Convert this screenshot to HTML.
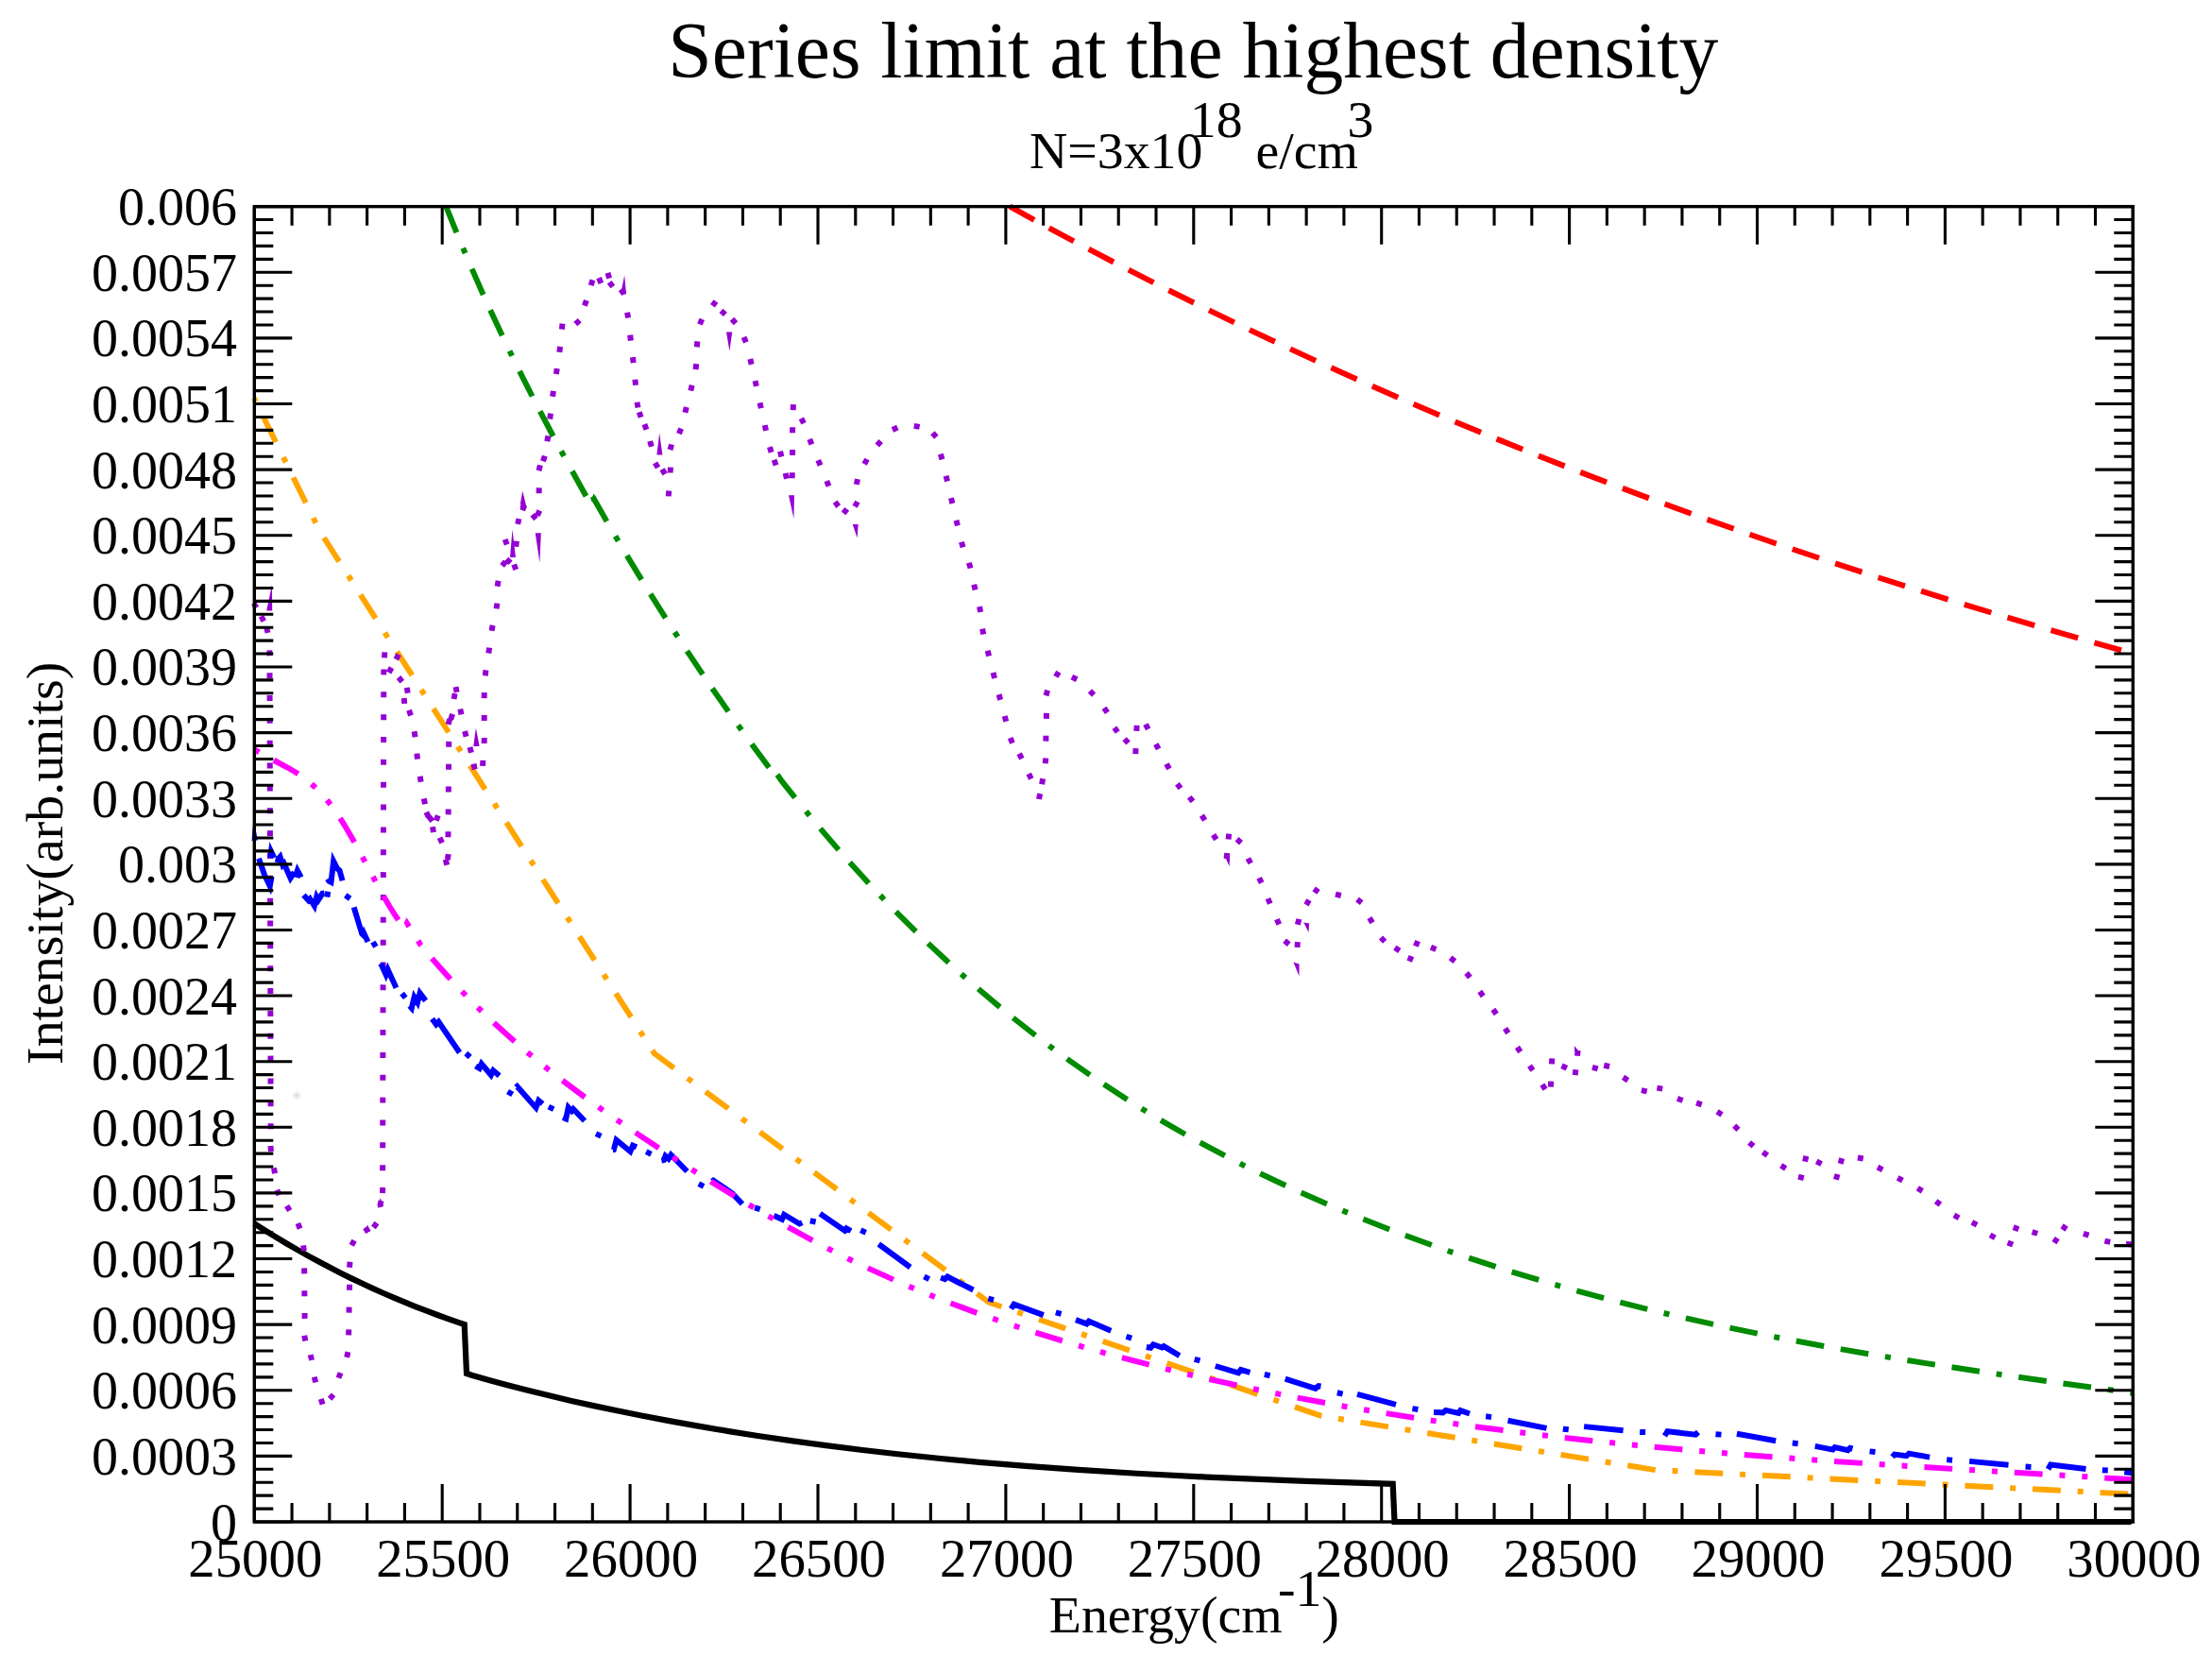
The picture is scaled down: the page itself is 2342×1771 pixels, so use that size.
<!DOCTYPE html>
<html lang="en"><head><meta charset="utf-8"><title>Series limit at the highest density</title>
<style>html,body{margin:0;padding:0;background:#fff}svg{display:block}text{font-family:"Liberation Serif", "DejaVu Serif", serif;fill:#000}</style></head><body>
<svg width="2342" height="1771" viewBox="0 0 2342 1771">
<rect width="2342" height="1771" fill="#fff"/>
<defs><clipPath id="pa"><rect x="266.3" y="215.65" width="1993.6" height="1398.55"/></clipPath><filter id="bl" x="-50%" y="-50%" width="200%" height="200%"><feGaussianBlur stdDeviation="1.6"/></filter></defs>
<circle cx="314.2" cy="1159.6" r="3.2" fill="#dcdcdc" filter="url(#bl)"/>
<g clip-path="url(#pa)" fill="none" stroke-linejoin="miter" stroke-miterlimit="30" stroke-linecap="butt" stroke-width="5.97">
<polyline stroke="#000" stroke-width="6.2" stroke-miterlimit="4" points="269,1295.09 280.42,1302.37 291.84,1309.43 303.26,1316.28 314.68,1322.92 326.1,1329.35 337.52,1335.58 348.94,1341.61 360.36,1347.45 371.78,1353.1 383.21,1358.57 394.63,1363.85 406.05,1368.96 417.47,1373.9 428.89,1378.66 440.31,1383.27 451.73,1387.71 463.15,1391.99 474.57,1396.13 485.99,1400.11 491.7,1402.05 494,1453.9 500.17,1456.04 518.67,1461.23 537.18,1466.22 555.68,1471.01 580.35,1477.11 605.02,1482.9 629.69,1488.38 654.37,1493.59 679.04,1498.54 709.88,1504.39 740.72,1509.9 771.56,1515.07 802.4,1519.94 839.4,1525.37 876.41,1530.39 913.42,1535.01 950.43,1539.25 993.6,1543.75 1036.78,1547.79 1086.12,1551.9 1141.63,1555.93 1203.31,1559.75 1277.33,1563.57 1382.18,1567.84 1474.7,1570.85 1476.5,1611 2256.5,1611"/>
<path stroke="#f00" d="M1068.95 218.47L1095.02 232.79M1110.71 241.3L1136.93 255.35M1152.7 263.7L1179.06 277.48M1194.92 285.68L1221.43 299.2M1237.38 307.24L1264.03 320.5M1280.06 328.37L1306.84 341.37M1322.95 349.09L1349.87 361.82M1366.06 369.38L1393.11 381.86M1409.38 389.26L1436.55 401.47M1452.89 408.72L1480.19 420.67M1496.6 427.77L1524.02 439.46M1540.5 446.4L1568.03 457.84M1584.58 464.63L1612.22 475.82M1628.83 482.45L1656.58 493.39M1673.26 499.88L1701.11 510.57M1717.85 516.91L1745.8 527.36M1762.6 533.56L1790.64 543.77M1807.5 549.82L1835.63 559.8M1852.54 565.71L1880.77 575.46M1897.73 581.24L1926.03 590.76M1943.04 596.4L1971.43 605.7M1988.48 611.22L2016.95 620.3M2034.05 625.69L2062.59 634.56M2079.73 639.83L2108.34 648.5M2125.52 653.64L2154.19 662.12M2171.42 667.14L2200.15 675.43M2217.41 680.34L2246 688.39"/>
<polyline stroke="#ffa500" stroke-dasharray="5.97 17.9 29.84 17.9" stroke-dashoffset="1.71" points="269,421.4 339,563 692.9,1115.3 1047.1,1378.7 1399,1498.9 1752.8,1556.1 2258,1581.7"/>
<path stroke="#9400d3" d="M268.54 638.2L271.46 643.4M276.61 652.21L279.19 657.59M282.07 664.11L283.53 669.89M285.33 688.32L285.67 694.28M285.55 712.17L285.56 718.13M285.6 736.02L285.62 741.98M285.66 759.87L285.67 765.83M285.71 783.72L285.73 789.68M285.77 807.57L285.78 813.53M285.82 831.42L285.83 837.38M285.87 855.27L285.89 861.23M285.93 879.12L285.94 885.08M285.98 902.97L286 908.93M286.04 926.82L286.05 932.78M286.09 950.67L286.11 956.63M286.15 974.52L286.16 980.48M286.2 998.37L286.22 1004.33M286.26 1022.22L286.27 1028.18M286.31 1046.07L286.33 1052.03M286.37 1069.92L286.38 1075.88M286.42 1093.77L286.43 1099.73M286.47 1117.62L286.49 1123.58M286.53 1141.47L286.54 1147.43M286.58 1165.32L286.6 1171.28M286.64 1189.17L286.65 1195.13M286.45 1213.03L286.95 1218.97M290.01 1236.26L290.99 1242.14M293.32 1259.62L295.48 1265.18M303.62 1276.47L306.78 1281.53M315.41 1295.02L317.59 1300.58M321.14 1318.34L321.86 1324.26M322.14 1342.42L322.26 1348.38M322.37 1366.22L322.43 1372.18M322.57 1389.92L322.63 1395.88M322.32 1413.65L323.28 1419.55M328.68 1434.1L330.12 1439.9M332.8 1457.6L334.2 1463.4M339.82 1480.95L341.58 1486.65M349.11 1480.82L353.09 1476.38M358.45 1458.79L360.55 1453.21M367.18 1436.92L368.42 1431.08M369.09 1413.28L369.31 1407.32M369.54 1389.58L369.66 1383.62M370.06 1365.78L370.14 1359.82M370.07 1341.67L370.53 1335.73M372.33 1318.45L375.07 1313.15M385.99 1303.56L390.81 1300.04M395.38 1299.36L399.02 1294.64M402.31 1276.92L403.49 1271.08M404.86 1262.97L405.34 1257.03M405.15 1239.13L405.16 1233.17M405.2 1215.28L405.21 1209.32M405.25 1191.43L405.26 1185.47M405.3 1167.58L405.32 1161.62M405.35 1143.73L405.37 1137.77M405.41 1119.88L405.42 1113.92M405.46 1096.03L405.47 1090.07M405.51 1072.18L405.52 1066.22M405.56 1048.33L405.58 1042.37M405.62 1024.48L405.63 1018.52M405.67 1000.63L405.68 994.67M405.72 976.78L405.73 970.82M405.77 952.93L405.78 946.97M405.82 929.08L405.84 923.12M405.88 905.23L405.89 899.27M405.93 881.38L405.94 875.42M405.98 857.53L405.99 851.57M406.03 833.68L406.05 827.72M406.08 809.83L406.1 803.87M406.14 785.98L406.15 780.02M406.19 762.13L406.2 756.17M406.24 738.28L406.25 732.32M406.22 714.43L406.38 708.47M407.05 696.38L407.35 690.42M422.12 692.78L419.28 698.02M414.52 706.78L411.68 712.02M421.98 717.02L425.82 721.58M430.88 727.85L431.72 733.75M427.77 738.93L428.23 744.87M433.03 751.78L434.97 757.42M438.61 774.26L439.59 780.14M441.32 797.74L442.08 803.66M444.72 821.75L445.68 827.65M448.81 845.38L449.99 851.22M451.34 859.69L453.86 865.11M454.2 864.52L457.8 869.28M463.79 863.19L461.81 868.81M458.06 875.25L458.94 881.15M465.54 886.8L468.06 892.2M471.79 909.9L473.21 915.7M473.83 910.05L474.77 904.15M474.46 886.23L474.51 880.27M474.64 862.38L474.69 856.42M474.83 838.53L474.87 832.57M475.01 814.68L475.06 808.72M475.19 790.83L475.24 784.87M474.67 766.89L476.13 761.11M477.29 761.54L479.11 755.86M480.5 740.02L481.7 734.18M482.5 727.08L483.7 732.92M487.3 750.48L488.5 756.32M492.04 774.01L493.56 779.79M497.43 791.02L498.97 796.78M501.46 808.69L502.74 814.51M511.01 810.88L511.39 804.92M512.61 786.98L512.79 781.02M512.7 762.98L512.7 757.02M512.61 739.08L512.79 733.12M513.79 715.37L514.41 709.43M517.27 691.55L518.13 685.65M520.58 667.74L521.62 661.86M525.62 644.46L526.38 638.54M526.6 620.74L527.6 614.86M531.62 598.92L535.38 594.28M536.21 591.87L540.59 595.93M546.21 603.01L544.19 597.39M536.71 576.61L534.69 570.99M546.33 578.77L546.87 572.83M548.14 554.91L549.46 549.09M553.16 540.3L555.24 534.7M563.37 549.08L567.83 545.12M568.84 545.81L571.36 540.39M570.63 522.28L570.77 516.32M570.51 498.2L571.89 492.4M574.98 488.24L576.82 482.56M579.35 467.25L580.25 461.35M582.24 443.56L582.96 437.64M585.08 419.75L585.92 413.85M588.85 396.05L589.75 390.15M592.33 372.76L593.07 366.84M594.89 348.57L595.51 342.63M609.26 343.08L613.74 339.12M618.88 323.61L620.92 317.99M625.71 302.15L627.49 296.45M632.44 298.13L637.96 295.87M643.47 288.93L645.13 294.67M645.21 298.71L648.79 303.49M657.29 306.36L660.71 311.24M664.09 330.66L665.11 336.54M667.14 354.64L667.86 360.56M669.97 378.13L670.63 384.07M672.41 401.83L672.99 407.77M674.48 425.66L675.52 431.54M676.72 436.18L678.68 441.82M682.35 449.11L684.45 454.69M688.17 467.03L689.83 472.77M693.54 489.95L696.66 495.05M701.09 496.73L704.11 501.87M707.78 525.38L708.22 519.42M709.66 500.48L709.94 494.52M709.5 476.17L711.1 470.43M718.86 459.16L721.14 453.64M725.34 436.69L726.86 430.91M731.31 413.6L732.69 407.8M736.51 391.06L737.29 385.14M737.78 367.37L738.42 361.43M740.94 343.45L743.26 337.95M754.44 323.81L757.96 318.99M763.48 328.91L767.92 332.89M775.04 337.75L778.96 342.25M787.54 356.85L789.86 362.35M794.28 380L795.72 385.8M799.56 403.09L800.84 408.91M804.57 426.38L805.83 432.22M809.74 450.09L811.06 455.91M814.96 473.14L816.64 478.86M819.61 486.79L821.59 492.41M826 477.7L827.4 483.5M831.6 500.9L833 506.7M838.65 506.18L838.75 500.22M839.08 481.98L839.12 476.02M839.06 458.28L839.14 452.32M839.71 434.08L839.89 428.12M848.31 442.86L851.09 448.14M857.19 464.93L859.41 470.47M866.27 487.04L868.53 492.56M875.24 509.05L877.56 514.55M884.1 531.32L887.7 536.08M892.6 539.21L897.2 542.99M905.02 536.29L907.98 531.11M906.74 512.91L908.06 507.09M915.12 491.29L918.08 486.11M928.72 471.53L932.68 467.07M944.88 454.92L950.32 452.48M967.76 450.88L973.64 451.92M987.45 458.24L991.35 462.76M995.9 480.63L997.5 486.37M1001.61 503.7L1002.99 509.5M1007.03 527.19L1008.37 533.01M1012.51 550.7L1013.89 556.5M1017.94 573.74L1019.66 579.46M1025.87 595.74L1027.53 601.46M1031.22 618.7L1032.58 624.5M1037.05 642.17L1038.15 648.03M1040.15 665.67L1041.25 671.53M1045.68 688.81L1047.12 694.59M1051.55 712.11L1053.05 717.89M1057.63 735.12L1059.17 740.88M1063.72 758.02L1065.28 763.78M1069.64 781.15L1071.96 786.65M1079.11 797.76L1081.89 803.04M1089.23 819L1091.77 824.4M1100.04 846.03L1101.16 840.17M1103.09 830.24L1104.11 824.36M1106.75 808.37L1107.25 802.43M1107.34 784.68L1107.46 778.72M1107.84 760.88L1107.96 754.92M1107.52 736.38L1109.08 730.62M1117.94 716.4L1120.86 711.2M1134.83 716.57L1140.17 719.23M1153.92 731.37L1158.08 735.63M1169.07 749.3L1172.33 754.3M1179.87 770.17L1183.33 775.03M1190.58 782.2L1194.62 786.6M1202.27 798.18L1202.53 792.22M1203.37 773.78L1203.63 767.82M1212.93 766.55L1215.67 771.85M1223.81 787.56L1226.59 792.84M1235.06 808.68L1237.94 813.92M1246.45 829.69L1249.95 834.51M1259.26 843.75L1262.94 848.45M1272.41 863.17L1275.59 868.23M1284.63 883.56L1287.77 888.64M1298.61 908.97L1299.19 903.03M1300.61 888.57L1301.19 882.63M1309.6 888.18L1314 892.22M1321.38 908.58L1324.22 913.82M1333.09 929.32L1335.71 934.68M1342.43 951.16L1344.77 956.64M1351.92 973.06L1354.28 978.54M1360.09 995.81L1364.71 999.59M1373.59 1002.98L1373.81 997.02M1373.88 978.7L1375.32 972.9M1382.98 957.87L1386.02 952.73M1391.86 945.03L1395.34 940.17M1414 946.58L1419.8 948.02M1436.94 952.08L1441.66 955.72M1449.95 971.65L1453.05 976.75M1462.03 992.45L1466.17 996.75M1476.85 1003.1L1481.75 1006.5M1492.15 1017.65L1494.45 1012.15M1498.85 1001.65L1501.15 996.15M1514.96 1002.73L1520.44 1005.07M1535.64 1013.98L1540.36 1017.62M1552.57 1030.02L1556.43 1034.58M1566.75 1049.59L1570.25 1054.41M1580.92 1068.54L1584.28 1073.46M1593.6 1088.58L1596.8 1093.62M1606.46 1108.51L1609.74 1113.49M1619.55 1128.22L1622.85 1133.18M1632.84 1148.12L1636.16 1153.08M1641.86 1150.58L1642.14 1144.62M1642.96 1126.38L1643.24 1120.42M1653.5 1128.22L1658.9 1130.78M1667.67 1138.16L1668.33 1132.24M1669.97 1117.76L1670.63 1111.84M1685.92 1129.92L1691.68 1131.48M1698.28 1127.78L1704.12 1129.02M1718.62 1140.35L1723.58 1143.65M1737.88 1154.19L1743.72 1155.41M1754.36 1151.6L1760.24 1152.6M1776.01 1162.85L1781.59 1164.95M1796.07 1167.44L1801.73 1169.36M1818.09 1176.79L1823.11 1180.01M1836.27 1191.61L1840.53 1195.79M1852.05 1209.44L1856.55 1213.36M1866.46 1219.59L1871.34 1223.01M1885.71 1233.66L1890.69 1236.94M1906.19 1249.3L1907.61 1243.5M1910.99 1229.6L1912.41 1223.8M1923.25 1229.43L1928.55 1232.17M1943.9 1248.77L1945.5 1243.03M1948.6 1231.87L1950.2 1226.13M1966.86 1225.5L1972.74 1226.5M1987.96 1235.51L1993.24 1238.29M2009.16 1246.8L2014.44 1249.6M2030.27 1257.72L2035.33 1260.88M2049.6 1271.53L2054.4 1275.07M2068.89 1286.36L2074.11 1289.24M2087.87 1293.79L2093.13 1296.61M2107.09 1307.36L2112.31 1310.24M2127.35 1319.29L2129.45 1313.71M2133.45 1302.99L2135.55 1297.41M2151.54 1304.04L2157.26 1305.76M2174.95 1315.59L2178.25 1310.61M2183.95 1301.99L2187.25 1297.01M2205.86 1305.79L2211.54 1307.61M2228.39 1313.54L2234.21 1314.86M2250.94 1316.72L2256.86 1317.48"/>
<path fill="#9400d3" stroke="none" d="M282.2 646.5L288 618.9L288.2 646.5ZM540.02 590L542.5 560.4L545.98 590ZM550.9 533L553.3 519.7L557.6 537.5ZM566.8 564.3L571.4 595.7L572.8 564.3ZM501.3 790L503.9 770.4L507.6 790ZM550.77 537L553.4 520.8L556.73 537ZM657.07 311.5L661.2 291.4L663.03 311.5ZM695.42 481.5L698.2 458.6L701.38 481.5ZM769 351.5L772.4 371.6L775.2 351.5ZM835.02 524.2L840.4 549L840.98 524.2ZM902.72 555L907.6 569.4L908.68 555ZM1296.2 905L1301.6 917L1302.2 905.5ZM1369.5 1018.5L1375.5 1033.5L1375.6 1020.5ZM1380.31 976.47L1385.5 987L1386.19 977.53ZM1666.8 1107L1667.2 1113L1673.8 1115.5ZM385.6 1304.8L389.2 1296.5L391.8 1303.8ZM399.8 1278.8L402.6 1268L406 1277Z"/>
<path stroke="#00f" d="M274 908.7L280 926L285.79 938.02L287.6 928M286.3 908L287.08 901.46L290.3 908M291.5 909.5L293.95 910.04L296.59 906.96L299.3 915.59L300.7 914.07L307.52 929.57L309.82 926.05L310.8 927M312.6 928.6L314.9 921.55L318.8 928.6M321.5 947.6L326.57 953.15L328.18 951.5L332.87 959.01L335.22 949.35L337.06 952.61L341.4 945.8L343.5 945.5M346.8 930.4L348.32 932.76L350.53 933.9L353.12 911.62L357.2 919.6L359.5 921.4L362.6 932.2M374.7 960.3L383.2 988.5L385.55 990.75L385.91 989.29L389.5 997M403.2 1020L408.6 1031.71L410.59 1026.32L419.5 1045.8M433.7 1064.8L435.84 1067.26L438.62 1055.55L442.05 1061.17L444.56 1051.2L450.7 1059.4M457.5 1078.5L461.81 1084.38L464.4 1081.71L486.6 1114.3M503.6 1128.5L507.64 1130.97L509.81 1126L519.85 1137.98L522.19 1133.23L528.7 1138.7M546.3 1151L547.5 1149.97L567.45 1172.6L570.31 1164.99L574.5 1168.5M596 1183.1L599.21 1184.4L601.76 1172.26L605.27 1175.94L606.94 1173.95L619 1186.5M648.8 1217L649.86 1216.91L652.58 1206.68L667.35 1218.96L670.07 1212.68L674 1214.3M700.4 1228.5L703.02 1227.97L704.56 1223.63L707.86 1226.6L710.42 1222.5L727.5 1240M753.8 1250.5L755.21 1249.64L775 1263L786 1274.5M819.3 1286.8L827.98 1290.81L830.16 1285.76L846.47 1295.5L849.3 1294.2M868.2 1284.8L894.35 1302.71L896.14 1300.29L901 1303M930.3 1317L963.8 1341.5M996 1352.5L1000.37 1354.08L1003.13 1351.5L1016.5 1358.5L1030.5 1365.5M1070.5 1385.5L1073.54 1380.63L1104.8 1392.1M1139 1397.1L1150.6 1401.35L1152.87 1398.54L1176.3 1408.7M1213.8 1426L1218.28 1426.75L1221.11 1423.26L1230.27 1426.52L1232.18 1425.14L1248.9 1435.1M1286.8 1446L1311.14 1453.36L1313.77 1450.05L1323.5 1452.9M1360.7 1459.7L1392.81 1469.82L1395.96 1467.12L1398.5 1467.5M1437 1475.8L1478 1486.8M1518 1494.9L1527.67 1495.35L1530.73 1492.89L1544.27 1495.93L1546.28 1493.16L1556 1496.5M1596.5 1503.8L1637.5 1511.9M1677.1 1510.1L1718.6 1514.2M1762.5 1520L1765.43 1515.22L1795.22 1518.61L1798 1516M1838.9 1517.7L1880.2 1525.2M1921.7 1530.9L1940.5 1534.6L1942.64 1532.16L1956.5 1535.2L1958.87 1532.78L1961.5 1533.5M2003.5 1542.2L2005.84 1539.62L2018.5 1541.2L2021.18 1538.62L2043.1 1542.6M2085.1 1546.9L2126.5 1550.8M2168.5 1555.2L2171.14 1550.43L2208.5 1555M2249.2 1558.2L2258.3 1559.3"/>
<path fill="#00f" stroke="none" d="M266.4 890.3L268.6 866L272.8 889.6Z"/>
<path stroke="#00f" d="M343.84 946.31L349.76 947.09M365.73 947.83L370.67 951.17M394.93 997.1L397.87 1002.3M425.54 1051.56L429.26 1056.24M493.3 1114.99L497.7 1119.01M537.54 1155.46L542.66 1158.54M580.79 1171.65L586.21 1174.15M630.99 1200.16L636.41 1202.64M684.11 1219.11L689.49 1221.69M739.74 1253.14L745.06 1255.86M799.06 1278.39L804.74 1280.21M857.78 1292.27L863.62 1293.53M911.27 1302.3L916.73 1304.7M978.45 1351.43L983.75 1354.17M1046.32 1374.63L1052.08 1376.17M1117.82 1389.31L1123.58 1390.89M1192.47 1414.75L1198.13 1416.65M1264.72 1438.82L1270.48 1440.38M1338.79 1454.92L1344.61 1456.28M1415.79 1474.23L1421.61 1475.57M1495.45 1491.14L1501.35 1492.06M1573.14 1499.31L1579.06 1500.09M1654.83 1512.7L1660.77 1513.3M1736.22 1515.9L1742.18 1516.1M1816.52 1518.18L1822.48 1518.62M1897.74 1527.57L1903.66 1528.23M1979.53 1536.38L1985.47 1537.02M2061.13 1545.11L2067.07 1545.69M2144.52 1552.5L2150.48 1552.9M2225.82 1556.17L2231.78 1556.43"/>
<path stroke="#f0f" d="M269.3 793.34L274.32 796.35M289.93 804.76L304.05 812.25L311.77 816.78L315.67 819.27M329.82 829.94L334.2 833.91M346.27 846.89L349.93 851.53M360.09 866.06L365.82 875.22L375.23 891.47M383.7 907.07L386.48 912.29M394.8 927.97L397.59 933.19M406.15 948.74L412.15 959.02L417.94 968.24L421.77 973.88M430.15 978.87L430.9 977.3L433.13 980.83M442.61 995.86L445.4 1000.29L445.84 1000.82M457.26 1014.42L467.19 1025.8L476.94 1036.57M489.11 1049.52L493.24 1053.77M505.78 1066.36L510.02 1070.5M522.92 1082.74L539.84 1098.07L544.96 1102.56M558.49 1114.11L563.05 1117.9M576.84 1129.13L581.48 1132.82M595.52 1143.75L619.28 1161.51M633.73 1171.91L638.57 1175.34M653.17 1185.52L658.06 1188.88M672.79 1198.88L697.49 1215.33M712.4 1225.09L717.38 1228.32M732.36 1237.95L737.37 1241.13M752.45 1250.61L777.76 1266.16M793.05 1275.31L798.17 1278.33M813.57 1287.29L818.73 1290.24M834.26 1298.99L860.37 1313.17M876.18 1321.43L881.47 1324.14M897.42 1332.11L902.76 1334.71M918.86 1342.38L945.95 1354.65M962.33 1361.71L967.81 1364.02M984.32 1370.79L989.84 1373M1006.47 1379.48L1034.36 1389.83M1051.19 1395.77L1056.82 1397.71M1073.74 1403.4L1079.39 1405.26M1096.39 1410.72L1124.84 1419.44M1141.98 1424.47L1147.7 1426.11M1164.89 1430.95L1170.63 1432.53M1187.87 1437.2L1216.69 1444.7M1234.02 1449.04L1239.81 1450.46M1257.18 1454.63L1262.98 1456M1280.39 1460.02L1309.47 1466.46M1326.96 1470.18L1332.79 1471.39M1350.31 1474.97L1356.15 1476.13M1373.69 1479.56L1402.98 1485.05M1420.59 1488.21L1426.46 1489.25M1444.08 1492.28L1449.96 1493.27M1467.6 1496.17L1497.05 1500.82M1514.74 1503.48L1520.64 1504.35M1538.35 1506.91L1544.25 1507.74M1561.97 1510.18L1591.54 1514.07M1609.3 1516.31L1615.22 1517.04M1632.98 1519.17L1638.91 1519.87M1656.69 1521.91L1686.34 1525.16M1704.15 1527.02L1710.08 1527.63M1727.89 1529.41L1733.83 1529.99M1751.65 1531.69L1781.37 1534.41M1799.21 1535.97L1805.15 1536.48M1823 1537.98L1828.94 1538.46M1846.79 1539.9L1876.55 1542.2M1894.41 1543.53L1900.37 1543.96M1918.23 1545.24L1924.19 1545.66M1942.06 1546.9L1971.84 1548.89M1989.72 1550.06L1995.68 1550.44M2013.56 1551.58L2019.52 1551.95M2037.4 1553.06L2067.2 1554.87M2085.09 1555.95L2091.05 1556.3M2108.94 1557.36L2114.9 1557.72M2132.79 1558.77L2162.6 1560.52M2180.49 1561.57L2186.45 1561.92M2204.34 1562.98L2210.3 1563.34M2228.19 1564.41L2258 1566.21"/>
<path stroke="#008b00" d="M472.4 218.94L483.38 246.12M490.25 262.65L492.57 268.15M499.63 284.62L511.69 311.94M519.11 328.25L531.76 355.3M539.53 371.45L542.14 376.81M550.07 392.86L563.54 419.48M571.78 435.38L585.73 461.75M594.22 477.51L597.12 482.84M605.85 498.79L620.55 525.31M627.38 525.54L642.41 551.86M651.57 567.58L654.6 572.73M663.76 588.13L679.26 613.66M688.69 628.9L704.64 654.15M714.35 669.21L717.6 674.21M727.43 689.15L744.03 713.91M754.12 728.67L771.16 753.13M781.51 767.71L785.1 772.72M795.93 787.7L814.2 812.52M823.01 819.98L827.39 826.37L841.72 844.45M853.36 858.81L857.14 863.4M868.56 877.09L887.93 899.62M899.75 912.97L919.77 934.93M931.99 947.91L936.11 952.23M948.59 965.08L969.73 986.17M982.62 998.61L1004.44 1018.99M1017.73 1030.99L1022.22 1034.98M1035.78 1046.81L1058.71 1066.13M1072.66 1077.49L1096.25 1096M1110.6 1106.86L1115.36 1110.39M1129.73 1120.87L1153.98 1137.9M1168.7 1147.87L1193.54 1164.03M1208.62 1173.46L1213.7 1176.58M1229.04 1185.81L1254.88 1200.74M1270.53 1209.44L1296.86 1223.48M1312.79 1231.65L1318.13 1234.34M1334.21 1242.26L1361.21 1255.05M1377.52 1262.48L1404.88 1274.49M1421.39 1281.47L1426.89 1283.76M1443.43 1290.51L1471.15 1301.43M1487.85 1307.77L1515.82 1318.01M1532.68 1323.96L1538.31 1325.91M1555.26 1331.67L1583.6 1340.94M1600.67 1346.31L1629.21 1354.96M1646.39 1359.97L1652.12 1361.6M1669.31 1366.42L1698.06 1374.17M1715.35 1378.64L1744.23 1385.84M1761.6 1390L1767.41 1391.37M1784.86 1395.39L1814 1401.85M1831.51 1405.58L1860.74 1411.59M1878.31 1415.07L1884.17 1416.21M1901.78 1419.56L1931.15 1424.98M1948.79 1428.12L1978.23 1433.19M1995.9 1436.14L2001.78 1437.11M2019.41 1439.96L2048.82 1444.6M2066.48 1447.31L2095.92 1451.73M2113.6 1454.33L2119.5 1455.19M2137.21 1457.75L2166.74 1461.94M2184.46 1464.43L2214 1468.53M2231.73 1470.98L2237.64 1471.8M2255.38 1474.24L2257.3 1474.5"/>
<path fill="#008b00" stroke="none" d="M625.7 531.5L628.5 522.3L631.3 527.4L628.7 528.9Z"/>
</g>
<g stroke="#000" fill="none" stroke-linecap="butt">
<path stroke-width="3.1" d="M269.3 218.65v40M269.3 1611v-40M309.08 218.65v20M309.08 1611v-20M348.86 218.65v20M348.86 1611v-20M388.64 218.65v20M388.64 1611v-20M428.42 218.65v20M428.42 1611v-20M468.2 218.65v40M468.2 1611v-40M507.98 218.65v20M507.98 1611v-20M547.76 218.65v20M547.76 1611v-20M587.54 218.65v20M587.54 1611v-20M627.32 218.65v20M627.32 1611v-20M667.1 218.65v40M667.1 1611v-40M706.88 218.65v20M706.88 1611v-20M746.66 218.65v20M746.66 1611v-20M786.44 218.65v20M786.44 1611v-20M826.22 218.65v20M826.22 1611v-20M866 218.65v40M866 1611v-40M905.78 218.65v20M905.78 1611v-20M945.56 218.65v20M945.56 1611v-20M985.34 218.65v20M985.34 1611v-20M1025.12 218.65v20M1025.12 1611v-20M1064.9 218.65v40M1064.9 1611v-40M1104.68 218.65v20M1104.68 1611v-20M1144.46 218.65v20M1144.46 1611v-20M1184.24 218.65v20M1184.24 1611v-20M1224.02 218.65v20M1224.02 1611v-20M1263.8 218.65v40M1263.8 1611v-40M1303.58 218.65v20M1303.58 1611v-20M1343.36 218.65v20M1343.36 1611v-20M1383.14 218.65v20M1383.14 1611v-20M1422.92 218.65v20M1422.92 1611v-20M1462.7 218.65v40M1462.7 1611v-40M1502.48 218.65v20M1502.48 1611v-20M1542.26 218.65v20M1542.26 1611v-20M1582.04 218.65v20M1582.04 1611v-20M1621.82 218.65v20M1621.82 1611v-20M1661.6 218.65v40M1661.6 1611v-40M1701.38 218.65v20M1701.38 1611v-20M1741.16 218.65v20M1741.16 1611v-20M1780.94 218.65v20M1780.94 1611v-20M1820.72 218.65v20M1820.72 1611v-20M1860.5 218.65v40M1860.5 1611v-40M1900.28 218.65v20M1900.28 1611v-20M1940.06 218.65v20M1940.06 1611v-20M1979.84 218.65v20M1979.84 1611v-20M2019.62 218.65v20M2019.62 1611v-20M2059.4 218.65v40M2059.4 1611v-40M2099.18 218.65v20M2099.18 1611v-20M2138.96 218.65v20M2138.96 1611v-20M2178.74 218.65v20M2178.74 1611v-20M2218.52 218.65v20M2218.52 1611v-20M2258.3 218.65v40M2258.3 1611v-40M269.3 1611h40M2258.3 1611h-40M269.3 1597.08h20M2258.3 1597.08h-20M269.3 1583.15h20M2258.3 1583.15h-20M269.3 1569.23h20M2258.3 1569.23h-20M269.3 1555.31h20M2258.3 1555.31h-20M269.3 1541.38h40M2258.3 1541.38h-40M269.3 1527.46h20M2258.3 1527.46h-20M269.3 1513.54h20M2258.3 1513.54h-20M269.3 1499.61h20M2258.3 1499.61h-20M269.3 1485.69h20M2258.3 1485.69h-20M269.3 1471.76h40M2258.3 1471.76h-40M269.3 1457.84h20M2258.3 1457.84h-20M269.3 1443.92h20M2258.3 1443.92h-20M269.3 1429.99h20M2258.3 1429.99h-20M269.3 1416.07h20M2258.3 1416.07h-20M269.3 1402.15h40M2258.3 1402.15h-40M269.3 1388.22h20M2258.3 1388.22h-20M269.3 1374.3h20M2258.3 1374.3h-20M269.3 1360.38h20M2258.3 1360.38h-20M269.3 1346.45h20M2258.3 1346.45h-20M269.3 1332.53h40M2258.3 1332.53h-40M269.3 1318.61h20M2258.3 1318.61h-20M269.3 1304.68h20M2258.3 1304.68h-20M269.3 1290.76h20M2258.3 1290.76h-20M269.3 1276.84h20M2258.3 1276.84h-20M269.3 1262.91h40M2258.3 1262.91h-40M269.3 1248.99h20M2258.3 1248.99h-20M269.3 1235.07h20M2258.3 1235.07h-20M269.3 1221.14h20M2258.3 1221.14h-20M269.3 1207.22h20M2258.3 1207.22h-20M269.3 1193.3h40M2258.3 1193.3h-40M269.3 1179.37h20M2258.3 1179.37h-20M269.3 1165.45h20M2258.3 1165.45h-20M269.3 1151.52h20M2258.3 1151.52h-20M269.3 1137.6h20M2258.3 1137.6h-20M269.3 1123.68h40M2258.3 1123.68h-40M269.3 1109.75h20M2258.3 1109.75h-20M269.3 1095.83h20M2258.3 1095.83h-20M269.3 1081.91h20M2258.3 1081.91h-20M269.3 1067.98h20M2258.3 1067.98h-20M269.3 1054.06h40M2258.3 1054.06h-40M269.3 1040.14h20M2258.3 1040.14h-20M269.3 1026.21h20M2258.3 1026.21h-20M269.3 1012.29h20M2258.3 1012.29h-20M269.3 998.37h20M2258.3 998.37h-20M269.3 984.44h40M2258.3 984.44h-40M269.3 970.52h20M2258.3 970.52h-20M269.3 956.6h20M2258.3 956.6h-20M269.3 942.67h20M2258.3 942.67h-20M269.3 928.75h20M2258.3 928.75h-20M269.3 914.83h40M2258.3 914.83h-40M269.3 900.9h20M2258.3 900.9h-20M269.3 886.98h20M2258.3 886.98h-20M269.3 873.05h20M2258.3 873.05h-20M269.3 859.13h20M2258.3 859.13h-20M269.3 845.21h40M2258.3 845.21h-40M269.3 831.28h20M2258.3 831.28h-20M269.3 817.36h20M2258.3 817.36h-20M269.3 803.44h20M2258.3 803.44h-20M269.3 789.51h20M2258.3 789.51h-20M269.3 775.59h40M2258.3 775.59h-40M269.3 761.67h20M2258.3 761.67h-20M269.3 747.74h20M2258.3 747.74h-20M269.3 733.82h20M2258.3 733.82h-20M269.3 719.9h20M2258.3 719.9h-20M269.3 705.97h40M2258.3 705.97h-40M269.3 692.05h20M2258.3 692.05h-20M269.3 678.13h20M2258.3 678.13h-20M269.3 664.2h20M2258.3 664.2h-20M269.3 650.28h20M2258.3 650.28h-20M269.3 636.36h40M2258.3 636.36h-40M269.3 622.43h20M2258.3 622.43h-20M269.3 608.51h20M2258.3 608.51h-20M269.3 594.58h20M2258.3 594.58h-20M269.3 580.66h20M2258.3 580.66h-20M269.3 566.74h40M2258.3 566.74h-40M269.3 552.81h20M2258.3 552.81h-20M269.3 538.89h20M2258.3 538.89h-20M269.3 524.97h20M2258.3 524.97h-20M269.3 511.04h20M2258.3 511.04h-20M269.3 497.12h40M2258.3 497.12h-40M269.3 483.2h20M2258.3 483.2h-20M269.3 469.27h20M2258.3 469.27h-20M269.3 455.35h20M2258.3 455.35h-20M269.3 441.43h20M2258.3 441.43h-20M269.3 427.5h40M2258.3 427.5h-40M269.3 413.58h20M2258.3 413.58h-20M269.3 399.66h20M2258.3 399.66h-20M269.3 385.73h20M2258.3 385.73h-20M269.3 371.81h20M2258.3 371.81h-20M269.3 357.89h40M2258.3 357.89h-40M269.3 343.96h20M2258.3 343.96h-20M269.3 330.04h20M2258.3 330.04h-20M269.3 316.11h20M2258.3 316.11h-20M269.3 302.19h20M2258.3 302.19h-20M269.3 288.27h40M2258.3 288.27h-40M269.3 274.34h20M2258.3 274.34h-20M269.3 260.42h20M2258.3 260.42h-20M269.3 246.5h20M2258.3 246.5h-20M269.3 232.57h20M2258.3 232.57h-20M269.3 218.65h40M2258.3 218.65h-40"/>
<rect x="269.3" y="218.65" width="1989" height="1392.35" stroke-width="3.4"/>
</g>
<g font-size="56.8">
<text x="270.3" y="1668.7" text-anchor="middle">25000</text>
<text x="469.2" y="1668.7" text-anchor="middle">25500</text>
<text x="668.1" y="1668.7" text-anchor="middle">26000</text>
<text x="867" y="1668.7" text-anchor="middle">26500</text>
<text x="1065.9" y="1668.7" text-anchor="middle">27000</text>
<text x="1264.8" y="1668.7" text-anchor="middle">27500</text>
<text x="1463.7" y="1668.7" text-anchor="middle">28000</text>
<text x="1662.6" y="1668.7" text-anchor="middle">28500</text>
<text x="1861.5" y="1668.7" text-anchor="middle">29000</text>
<text x="2060.4" y="1668.7" text-anchor="middle">29500</text>
<text x="2259.3" y="1668.7" text-anchor="middle">30000</text>
<text x="251" y="1630.5" font-size="56" text-anchor="end">0</text>
<text x="251" y="1560.88" font-size="56" text-anchor="end">0.0003</text>
<text x="251" y="1491.27" font-size="56" text-anchor="end">0.0006</text>
<text x="251" y="1421.65" font-size="56" text-anchor="end">0.0009</text>
<text x="251" y="1352.03" font-size="56" text-anchor="end">0.0012</text>
<text x="251" y="1282.41" font-size="56" text-anchor="end">0.0015</text>
<text x="251" y="1212.8" font-size="56" text-anchor="end">0.0018</text>
<text x="251" y="1143.18" font-size="56" text-anchor="end">0.0021</text>
<text x="251" y="1073.56" font-size="56" text-anchor="end">0.0024</text>
<text x="251" y="1003.94" font-size="56" text-anchor="end">0.0027</text>
<text x="251" y="934.33" font-size="56" text-anchor="end">0.003</text>
<text x="251" y="864.71" font-size="56" text-anchor="end">0.0033</text>
<text x="251" y="795.09" font-size="56" text-anchor="end">0.0036</text>
<text x="251" y="725.47" font-size="56" text-anchor="end">0.0039</text>
<text x="251" y="655.86" font-size="56" text-anchor="end">0.0042</text>
<text x="251" y="586.24" font-size="56" text-anchor="end">0.0045</text>
<text x="251" y="516.62" font-size="56" text-anchor="end">0.0048</text>
<text x="251" y="447" font-size="56" text-anchor="end">0.0051</text>
<text x="251" y="377.38" font-size="56" text-anchor="end">0.0054</text>
<text x="251" y="307.77" font-size="56" text-anchor="end">0.0057</text>
<text x="251" y="238.15" font-size="56" text-anchor="end">0.006</text>
</g>
<g font-size="55.8">
<text x="1110.8" y="1728">Energy(cm</text>
<text x="1352.9" y="1699.5">-1</text>
<text x="1399.3" y="1728">)</text>
<text transform="translate(66.0 1126.9) rotate(-90)">Intensity(arb.units)</text>
<text x="1090.0" y="177.7">N=3x10</text>
<text x="1259.8" y="144.8">18</text>
<text x="1329.55" y="177.7">e/cm</text>
<text x="1426.6" y="144.8">3</text>
</g>
<text x="1263.2" y="82.0" font-size="83.6" text-anchor="middle">Series limit at the highest density</text>
</svg></body></html>
